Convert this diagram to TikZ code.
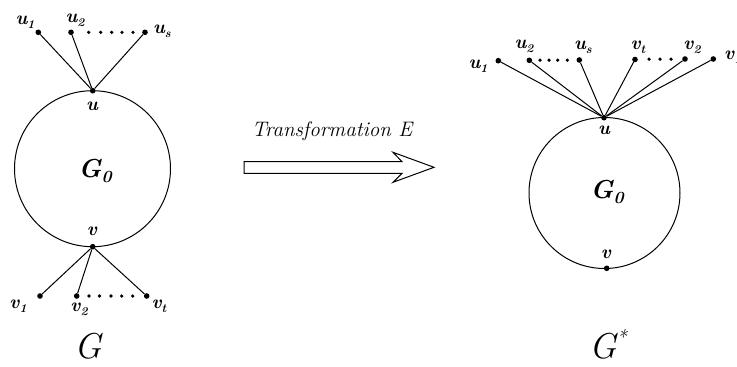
\documentclass[tikz,border=0pt]{standalone}
\usepackage{fontspec}
\newcommand{\lab}[2]{{\fontsize{19}{19}\selectfont\bfseries\itshape #1}\raisebox{-0.45ex}{\fontsize{12}{12}\selectfont\itshape #2}}
\begin{document}
\begin{tikzpicture}[x=1pt,y=-1pt,
  dot/.style={circle,fill=black,inner sep=0pt,minimum size=5.6pt},
  edge/.style={line width=1pt},
  lbl/.style={inner sep=0pt,font=\fontsize{19}{19}\selectfont\bfseries\itshape},
  gbig/.style={inner sep=0pt,anchor=base,font=\fontsize{36}{36}\selectfont\itshape},
  gzero/.style={inner sep=0pt,font=\fontsize{26}{26}\selectfont\bfseries\itshape},
  ring/.style={circle,draw,line width=1pt,inner sep=0pt}]
\useasboundingbox (0,0) rectangle (737,367);
% ---------- left graph G ----------
\node[ring,minimum size=156pt] (lring) at (92.5,168.7) {};
\node[gzero] (lg0) at (95,171) {G\raisebox{-0.35ex}{\fontsize{17}{17}\selectfont\itshape 0}};
\node[dot] (lu) at (92.7,90.7) {};
\node[dot] (lv) at (92.7,246.7) {};
\node[dot] (lu1) at (38.3,32.3) {};
\node[dot] (lu2) at (71,32.3) {};
\node[dot] (lus) at (145,32.3) {};
\node[dot] (lv1) at (40,296) {};
\node[dot] (lv2) at (76.7,296) {};
\node[dot] (lvt) at (146.7,296) {};
\foreach \n in {lu1,lu2,lus} \draw[edge] (lu) -- (\n);
\foreach \n in {lv1,lv2,lvt} \draw[edge] (lv) -- (\n);
\foreach \x in {88.7,100.7,111.7,122,133} \fill (\x,32.3) circle (1.8);
\foreach \x in {89,99.5,111,121.7,132.7} \fill (\x,296) circle (1.8);
\node[lbl] (tlu1) at (25,22) {\lab{u}{1}};
\node[lbl] (tlu2) at (75,20) {\lab{u}{2}};
\node[lbl] (tlus) at (162,31) {\lab{u}{s}};
\node[lbl] (tlu) at (92,106) {u};
\node[lbl] (tlv) at (92,231) {v};
\node[lbl] (tlv1) at (18,306) {\lab{v}{1}};
\node[lbl] (tlv2) at (79,309) {\lab{v}{2}};
\node[lbl] (tlvt) at (159,306) {\lab{v}{t}};
\node[gbig] (tG) at (88,358.5) {G};
% ---------- arrow ----------
\node[inner sep=0pt,font=\fontsize{21}{21}\selectfont\itshape] (tr) at (332,131) {Transformation E};
\draw[line width=1pt,fill=white] (244,161.7) -- (402,161.7) -- (393,152.3) -- (434,167.3) -- (393,182.3) -- (402,173.3) -- (244,173.3) -- cycle;
% ---------- right graph G* ----------
\node[ring,minimum size=151pt] (rring) at (604.5,193) {};
\node[gzero] (rg0) at (607,192) {G\raisebox{-0.35ex}{\fontsize{17}{17}\selectfont\itshape 0}};
\node[dot] (ru) at (604,117.7) {};
\node[dot] (rv) at (606.7,268.3) {};
\node[dot] (ru1) at (498.3,60.7) {};
\node[dot] (ru2) at (529.3,60.3) {};
\node[dot] (rus) at (579.3,60) {};
\node[dot] (rvt) at (635,59.5) {};
\node[dot] (rv2) at (685,59) {};
\node[dot] (rv1) at (713.3,59) {};
\foreach \n in {ru1,ru2,rus,rvt,rv2,rv1} \draw[edge] (ru) -- (\n);
\foreach \x in {540,549,557.7,567.3} \fill (\x,60.2) circle (1.8);
\foreach \x in {649,660,671} \fill (\x,59.2) circle (1.8);
\node[lbl] (tru1) at (478,66) {\lab{u}{1}};
\node[lbl] (tru2) at (524,46) {\lab{u}{2}};
\node[lbl] (trus) at (583,47) {\lab{u}{s}};
\node[lbl] (trvt) at (638,47) {\lab{v}{t}};
\node[lbl] (trv2) at (692,47) {\lab{v}{2}};
\node[lbl,anchor=west] (trv1) at (724,57) {\lab{v}{1}};
\node[lbl] (tru) at (604,130) {u};
\node[lbl] (trv) at (606,254) {v};
\node[gbig] (tGs) at (608,358.5) {G\raisebox{0.9ex}{\fontsize{20}{20}\selectfont *}};
\end{tikzpicture}
\end{document}
